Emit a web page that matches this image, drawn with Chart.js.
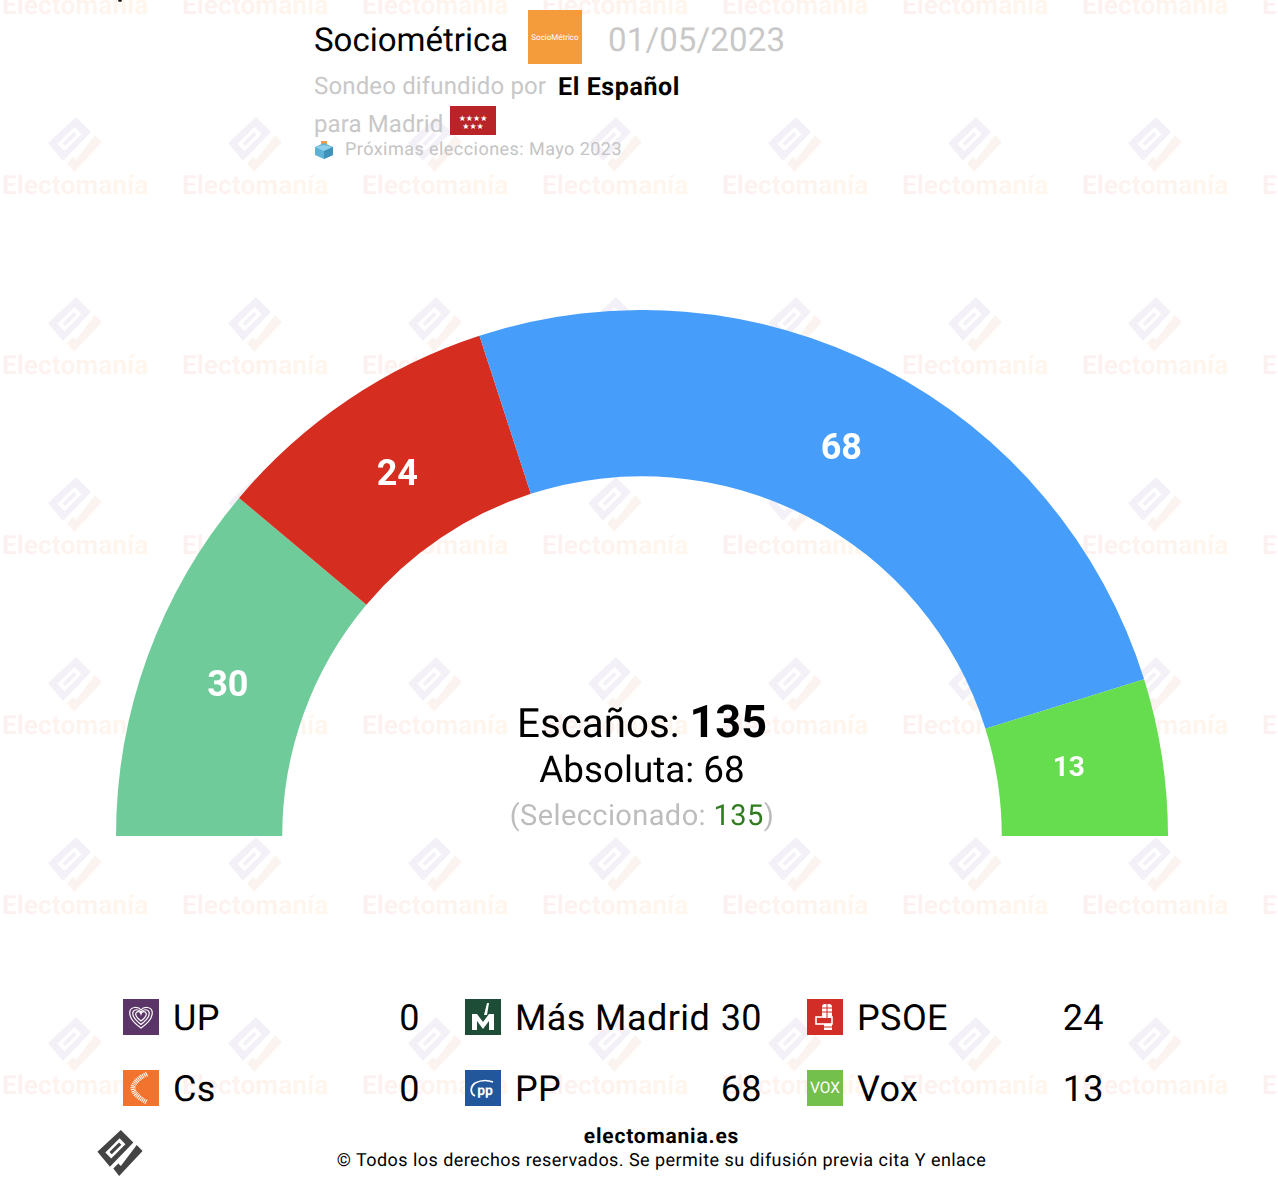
<!DOCTYPE html>
<html lang="es">
<head>
<meta charset="utf-8">
<title>Sociométrica 01/05/2023</title>
<script src="https://cdn.jsdelivr.net/npm/chart.js@4"></script>
<style>
    html, body { margin: 0; padding: 0; background: #fff; }
    body { width: 1278px; height: 1184px; position: relative; overflow: hidden; font-family: Roboto, sans-serif; color: #000; text-rendering: geometricPrecision; }
    .t { position: absolute; white-space: nowrap; line-height: 1; }
    .gris { color: #c8c8c8; }
    .marca { position: absolute; }
    .agua { position: absolute; font: bold 26.4px Roboto, sans-serif; white-space: nowrap; line-height: 1;
        background: linear-gradient(90deg, #fcf1f1, #fff6ec); -webkit-background-clip: text; background-clip: text; color: transparent; }
    #grafico { position: absolute; left: 116px; top: 310px; }
    .icono { position: absolute; width: 36px; height: 36px; }
</style>
</head>
<body>
<div id="fondo"></div>
<canvas id="grafico" width="1052" height="526" style="width:1052px;height:526px"></canvas>

<div class="marca" style="left:118px;top:0;width:4px;height:2px;background:#222;border-radius:0 0 2px 2px"></div>
<div class="t" style="left:314px;top:24px;font-size:33px">Sociométrica</div>
<svg class="marca" style="left:528px;top:10px" width="54" height="54">
    <rect width="54" height="54" fill="#f49c3b"/>
    <text x="27" y="30" text-anchor="middle" font-family="Roboto" font-size="8" fill="#fff">SocioMétrico</text>
</svg>
<div class="t gris" style="left:608px;top:24px;font-size:33px;letter-spacing:.15px">01/05/2023</div>
<div class="t gris" style="left:314px;top:74px;font-size:24px;letter-spacing:.15px">Sondeo difundido por</div>
<div class="t" style="left:558px;top:75px;font-size:25px;font-weight:bold;letter-spacing:.6px">El Español</div>
<div class="t gris" style="left:314px;top:112px;font-size:24px;letter-spacing:.1px">para Madrid</div>
<svg class="marca" style="left:450px;top:106px" width="46" height="29">
    <rect width="46" height="29" fill="#b82428"/>
    <text x="23" y="15" text-anchor="middle" font-family="DejaVu Sans" font-size="8" fill="#fff">★★★★</text>
    <text x="23" y="23" text-anchor="middle" font-family="DejaVu Sans" font-size="8" fill="#fff">★★★</text>
</svg>
<svg class="marca" style="left:314px;top:140px" width="20" height="20">
    <rect x="7" y="1" width="6" height="9" fill="#ee9b4a"/>
    <polygon points="1,7 10,3 19,7 19,15 10,19 1,15" fill="#5eb2d6"/>
    <polygon points="1,7 10,11 19,7 10,5" fill="#8fd0ea"/>
    <polygon points="10,11 19,7 19,15 10,19" fill="#3f93bb"/>
</svg>
<div class="t" style="left:345px;top:141px;font-size:18px;color:#c4c4c4;letter-spacing:.45px">Próximas elecciones: Mayo 2023</div>

<div class="t" style="left:0;width:1284px;text-align:center;top:699px;font-size:40.3px;">Escaños: <b style="font-size:45px">135</b></div>
<div class="t" style="left:0;width:1284px;text-align:center;top:752px;font-size:36.8px">Absoluta: 68</div>
<div class="t" style="left:0;width:1284px;text-align:center;top:802px;font-size:29px;color:#bdbdbd;letter-spacing:.4px">(Seleccionado: <span style="color:#2f7d1f">135</span>)</div>

<div id="leyenda"></div>

<svg class="marca" style="left:97px;top:1130px" width="46" height="46" viewBox="48 117 54 55" id="logoPie"></svg>
<div class="t" style="left:0;width:1323px;text-align:center;top:1127px;font-size:21px;font-weight:bold;letter-spacing:.8px">electomania.es</div>
<div class="t" style="left:0;width:1323px;text-align:center;top:1152px;font-size:18px;letter-spacing:.45px">© Todos los derechos reservados. Se permite su difusión previa cita Y enlace</div>

<script>
// Datos del sondeo, en el orden del hemiciclo
const partidos = ['UP', 'Más Madrid', 'PSOE', 'PP', 'Vox', 'Cs'];
const escanos = [0, 30, 24, 68, 13, 0];
const colores = ['#5b3567', '#70cb9b', '#d52d1f', '#469efa', '#66dc4f', '#f1732d'];

// Leyenda por columnas
const columnasLeyenda = [['UP', 'Cs'], ['Más Madrid', 'PP'], ['PSOE', 'Vox']];
const coloresIcono = { 'UP': '#5b3567', 'Cs': '#f1732d', 'Más Madrid': '#1d4d37', 'PP': '#23579b', 'PSOE': '#d22d26', 'Vox': '#74c04d' };

// Dibujo interior de cada icono
const dibujoIcono = {
    'UP': '<path d="M18 29C8 22 6 16 7 12c1-4 8-5 11-1 3-4 10-3 11 1 1 4-1 10-11 17z" fill="none" stroke="#fff" stroke-width="1.2"/><path d="M18 25.500C11 20 9 16 10 13c1-3 6-3 8 0 2-3 7-3 8 0 1 3-1 7-8 12.500z" fill="none" stroke="#fff" stroke-width="1.2"/><path d="M18 22c-4-3-6-6-5-8 1-2 4-2 5 1 1-3 4-3 5-1 1 2-1 5-5 8z" fill="none" stroke="#fff" stroke-width="1.2"/>',
    'Cs': '<path d="M24 4C14 9 10 14 10 18s4 9 14 14" fill="none" stroke="#fff" stroke-width="5" stroke-dasharray="1 .8"/><path d="M24 7c-5 3-8 7-8 11s3 8 8 11" fill="none" stroke="#f1732d" stroke-width="2"/>',
    'Más Madrid': '<path d="M7 31V15h5l6 8 6-8h5v16h-5V22l-6 8-6-8v9z" fill="#fff"/><path d="M19 16l3-12 2 0-2 12z" fill="#fff"/>',
    'PP': '<path d="M10 13c-5 4-5 10 0 13" fill="none" stroke="#fff" stroke-width="1.8"/><path d="M10 13c6-3 13-3 18-1" fill="none" stroke="#fff" stroke-width="1.4"/><text x="20" y="25" text-anchor="middle" font-family="Roboto" font-weight="bold" font-size="14" fill="#fff">pp</text>',
    'PSOE': '<rect x="15" y="5" width="10" height="14" rx="3" fill="#fff"/><rect x="9" y="18" width="16" height="7" fill="none" stroke="#fff" stroke-width="1.6"/><rect x="17" y="25" width="8" height="6" fill="#fff"/><path d="M15 9h10M15 13h10M20 5v14M17 28h8" stroke="#d22d26" stroke-width="1" fill="none"/>',
    'Vox': '<text x="18" y="23" text-anchor="middle" font-family="Roboto" font-size="16" fill="#fff" textLength="30" lengthAdjust="spacingAndGlyphs">VOX</text>'
};

// Logo de Electomanía (cuadro girado con ranura y gancho), en coordenadas de la primera marca de agua
function logoElectomania(relleno1, relleno2, dx, dy) {
    return `<path transform="translate(${dx} ${dy})" fill="${relleno1}" fill-rule="evenodd"
        d="M76 117L91 132L63 161L48 143Z M74.500 127L57.500 144L64.500 151L81.500 134Z M73.800 131.900L62.400 143.300L65.200 146.100L76.600 134.700Z"/>
        <polygon transform="translate(${dx} ${dy})" fill="${relleno2}"
        points="95,135 102,142 74,172 67,163 73,157 76,160"/>`;
}

function crearFondo() {
    const fondo = document.getElementById('fondo');
    let html = '';
    for (let j = 0; j < 7; j++) {
        for (let i = 0; i < 8; i++) {
            const x = i * 180;
            const y = j * 180 - 180;
            if (j > 0) {
                html += `<svg class="marca" style="left:0;top:0;opacity:.55" width="1278" height="1184">${logoElectomania('#ece4f1', '#f8ebe2', x, y)}</svg>`;
            }
            html += `<div class="agua" style="left:${x + 2}px;top:${y + 173}px">Electomanía</div>`;
        }
    }
    fondo.innerHTML = html;
}

function crearLeyenda() {
    const caja = document.getElementById('leyenda');
    let html = '';
    columnasLeyenda.forEach((columna, c) => {
        const izquierda = 123 + c * 342;
        columna.forEach((nombre, f) => {
            const arriba = 999 + f * 71;
            const valor = escanos[partidos.indexOf(nombre)];
            html += `<svg class="icono" style="left:${izquierda}px;top:${arriba}px" viewBox="0 0 36 36"><rect width="36" height="36" fill="${coloresIcono[nombre]}"/>${dibujoIcono[nombre]}</svg>`;
            html += `<div class="t" style="left:${izquierda + 50}px;top:${arriba + 1}px;font-size:36px;letter-spacing:.4px">${nombre}</div>`;
            html += `<div class="t" style="left:${izquierda + 197}px;width:100px;text-align:right;top:${arriba + 1}px;font-size:36px;letter-spacing:.4px">${valor}</div>`;
        });
    });
    caja.innerHTML = html;
}

// Ajuste de cada cifra respecto al centro de su sector
const ajusteEtiqueta = { 'Más Madrid': [2, 2], 'PSOE': [3, 7], 'PP': [-4, 7], 'Vox': [-11, 0] };

// Números blancos sobre cada sector
const etiquetasSectores = {
    id: 'etiquetasSectores',
    afterDatasetsDraw(chart) {
        const ctx = chart.ctx;
        chart.getDatasetMeta(0).data.forEach((arco, i) => {
            if (!escanos[i]) return;
            const p = arco.getCenterPoint();
            const ajuste = ajusteEtiqueta[partidos[i]];
            const pequeno = escanos[i] < 20; // el sector estrecho lleva la cifra reducida
            ctx.save();
            ctx.fillStyle = '#fff';
            ctx.font = `bold ${pequeno ? 28 : 36}px Roboto, sans-serif`;
            ctx.textAlign = 'center';
            ctx.textBaseline = 'middle';
            ctx.fillText(String(escanos[i]), p.x + ajuste[0], p.y + ajuste[1]);
            ctx.restore();
        });
    }
};

function renderizarGrafico() {
    new Chart(document.getElementById('grafico').getContext('2d'), {
        type: 'doughnut',
        data: {
            labels: partidos,
            datasets: [{ data: escanos, backgroundColor: colores, borderWidth: 0 }]
        },
        options: {
            responsive: false,
            animation: false,
            rotation: -90,
            circumference: 180,
            cutout: '68.4%',
            layout: { padding: 0 },
            plugins: { legend: { display: false }, tooltip: { enabled: false } }
        },
        plugins: [etiquetasSectores]
    });
}

crearFondo();
crearLeyenda();
document.getElementById('logoPie').innerHTML = logoElectomania('#444', '#444', 0, 0);
renderizarGrafico();
</script>
</body>
</html>
